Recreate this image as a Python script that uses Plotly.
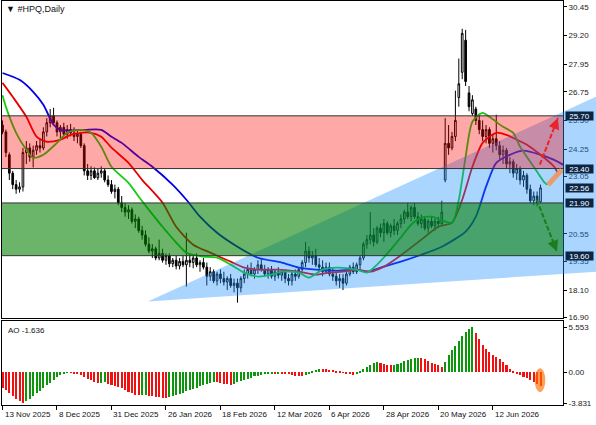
import plotly.graph_objects as go

# ---------------- data ----------------
TITLE = "\u25BC #HPQ,Daily"
AO_LABEL = "AO -1.636"
DATE_LABELS = ["13 Nov 2025", "8 Dec 2025", "31 Dec 2025", "26 Jan 2026", "18 Feb 2026",
               "12 Mar 2026", "6 Apr 2026", "28 Apr 2026", "20 May 2026", "12 Jun 2026"]
DATE_LABEL_BARS = [0, 16, 32, 48, 64, 80, 96, 112, 128, 144]
PRICE_TICKS = [30.45, 29.20, 27.95, 26.75, 25.50, 24.25, 23.05, 20.55, 19.35, 18.10, 16.90]
AO_TICKS = [5.553, 0.0, -3.831]
AO_TICKTEXT = ["5.553", "0.00", "-3.831"]
LEVELS = [25.70, 23.40, 22.56, 21.90, 19.60]
RESIST_ZONE = [23.40, 25.70]
SUPPORT_ZONE = [19.60, 21.90]
TRIANGLE_BARS = [42.7, 174.3, 174.3]
TRIANGLE_PRICES = [17.6, 26.53, 18.9]
UP_ARROW_BARS, UP_ARROW_PRICES = [157.8, 163.1], [23.57, 25.61]
DOWN_ARROW_BARS, DOWN_ARROW_PRICES = [156.9, 162.8], [22.04, 19.78]
PROJ_BARS, PROJ_PRICES = [160.2, 164.3], [22.69, 23.35]
AO_MARK_BARS, AO_MARK_VALUES = [156.3, 159.4], [0.5, -2.45]

OPEN = [25.3, 25.0, 24.0, 23.2, 22.7, 22.5, 22.6, 24.1, 24.3, 23.9,
        24.2, 24.4, 24.3, 25.0, 25.4, 25.7, 25.4, 25.0, 25.2, 24.9,
        25.1, 24.95, 24.8, 24.9, 24.4, 23.3, 23.1, 23.3, 23.0, 23.2,
        23.3, 22.9, 22.7, 22.4, 22.5, 21.9, 21.7, 21.5, 21.6, 21.1,
        21.2, 20.7, 20.5, 20.1, 19.8, 19.9, 19.5, 19.7, 19.4, 19.6,
        19.25, 19.4, 19.15, 19.35, 19.2, 19.4, 19.3, 19.5, 19.2, 19.3,
        19.1, 18.7, 18.9, 18.5, 18.8, 18.6, 18.45, 18.6, 18.3, 18.4,
        18.2, 18.6, 18.8, 19.0, 18.8, 19.0, 19.2, 19.0, 18.8, 19.0,
        18.7, 18.9, 18.75, 18.9, 18.6, 18.5, 18.8, 18.7, 19.0, 19.3,
        19.8, 19.5, 19.6, 19.2, 19.1, 18.9, 19.1, 18.8, 18.7, 18.5,
        18.6, 18.4, 18.8, 19.1, 18.9, 19.2, 19.5, 20.1, 20.3, 20.5,
        20.2, 20.8, 20.6, 21.0, 20.6, 20.9, 20.7, 21.0, 21.2, 21.5,
        21.3, 21.7, 21.3, 21.0, 21.2, 20.8, 21.1, 20.9, 21.1, 21.0,
        22.9, 24.5, 24.3, 24.8, 26.5, 27.6, 29.0, 26.7, 25.8, 26.0,
        25.5, 25.1, 24.8, 25.1, 24.5, 24.7, 24.4, 24.0, 24.2, 23.6,
        23.7, 23.2, 23.4, 22.9, 23.1, 22.5, 22.0, 22.2, 21.95]
HIGH = [25.5, 25.1, 24.1, 23.3, 22.9, 22.8, 24.3, 24.6, 24.5, 24.4,
        24.6, 24.7, 25.2, 25.6, 26.0, 26.05, 25.5, 25.3, 25.4, 25.3,
        25.35, 25.2, 25.1, 25.0, 24.5, 23.6, 23.5, 23.45, 23.4, 23.5,
        23.4, 23.1, 22.9, 22.7, 22.6, 22.2, 21.9, 21.8, 21.7, 21.4,
        21.3, 20.9, 20.7, 20.4, 20.1, 20.0, 20.3, 19.9, 19.7, 19.7,
        19.5, 19.6, 19.5, 19.6, 20.6, 19.7, 19.6, 19.7, 19.4, 19.5,
        19.3, 19.1, 19.0, 18.9, 19.0, 18.9, 18.7, 18.8, 18.6, 18.6,
        18.7, 19.0, 19.2, 19.3, 19.1, 19.4, 19.5, 19.2, 19.1, 19.15,
        19.0, 19.1, 19.0, 19.0, 18.8, 18.9, 19.0, 19.1, 19.4, 20.2,
        20.0, 19.8, 19.9, 19.5, 19.4, 19.3, 19.3, 19.1, 18.9, 18.8,
        18.8, 18.9, 19.2, 19.3, 19.3, 19.6, 20.2, 20.5, 21.5, 20.8,
        20.9, 21.0, 21.2, 21.1, 21.0, 21.2, 21.1, 21.4, 21.6, 21.9,
        21.8, 21.9, 21.5, 21.4, 21.3, 21.2, 21.3, 21.2, 21.3, 22.0,
        25.6, 25.3, 25.0, 26.8, 28.2, 29.5, 29.45, 27.0, 26.6, 26.1,
        25.8, 25.5, 25.3, 25.2, 24.9, 25.75, 24.6, 24.4, 24.3, 23.9,
        23.8, 23.6, 23.5, 23.3, 23.2, 22.7, 22.4, 22.4, 22.7]
LOW = [24.9, 23.9, 22.9, 22.5, 22.3, 22.35, 22.4, 23.6, 23.7, 23.45,
       24.0, 24.1, 24.2, 24.8, 25.2, 25.3, 24.8, 24.7, 24.8, 24.7,
       24.8, 24.6, 24.5, 24.3, 23.1, 22.9, 22.9, 22.95, 22.9, 23.0,
       22.8, 22.6, 22.3, 22.1, 21.8, 21.5, 21.3, 21.2, 21.0, 20.8,
       20.6, 20.3, 20.0, 19.7, 19.5, 19.4, 19.4, 19.3, 19.2, 19.1,
       19.1, 19.0, 19.0, 19.1, 18.25, 19.1, 19.05, 19.1, 18.9, 19.0,
       18.3, 18.5, 18.4, 18.3, 18.4, 18.3, 18.1, 18.2, 18.0, 17.55,
       18.0, 18.4, 18.6, 18.7, 18.6, 18.8, 18.9, 18.7, 18.6, 18.6,
       18.5, 18.6, 18.5, 18.4, 18.3, 18.3, 18.5, 18.6, 18.9, 19.1,
       19.3, 19.2, 19.1, 18.9, 18.7, 18.8, 18.7, 18.5, 18.3, 18.2,
       18.1, 18.3, 18.7, 18.8, 18.8, 19.0, 19.4, 19.9, 20.1, 20.0,
       20.1, 20.4, 20.2, 20.5, 20.4, 20.5, 20.5, 20.8, 21.0, 21.2,
       21.1, 21.2, 20.9, 20.8, 20.7, 20.6, 20.8, 20.7, 20.8, 20.9,
       22.8, 24.0, 24.2, 24.6, 26.1, 27.3, 27.0, 25.9, 25.7, 25.3,
       24.9, 24.6, 24.5, 24.3, 24.1, 24.2, 23.8, 23.6, 23.4, 23.2,
       23.0, 22.9, 22.7, 22.6, 22.3, 21.9, 21.8, 21.75, 21.9]
CLOSE = [25.0, 24.1, 23.2, 22.7, 22.5, 22.6, 24.1, 24.3, 23.9, 24.2,
         24.4, 24.3, 25.0, 25.4, 25.7, 25.4, 25.0, 25.2, 24.9, 25.1,
         24.95, 24.8, 24.9, 24.4, 23.3, 23.1, 23.3, 23.0, 23.2, 23.3,
         22.9, 22.7, 22.4, 22.5, 21.9, 21.7, 21.5, 21.6, 21.1, 21.2,
         20.7, 20.5, 20.1, 19.8, 19.9, 19.5, 19.7, 19.4, 19.6, 19.25,
         19.4, 19.15, 19.35, 19.2, 19.4, 19.3, 19.5, 19.2, 19.3, 19.1,
         18.7, 18.9, 18.5, 18.8, 18.6, 18.45, 18.6, 18.3, 18.4, 18.2,
         18.6, 18.8, 19.0, 18.8, 19.0, 19.2, 19.0, 18.8, 19.0, 18.7,
         18.9, 18.75, 18.9, 18.6, 18.5, 18.8, 18.7, 19.0, 19.3, 19.8,
         19.5, 19.6, 19.2, 19.1, 18.9, 19.1, 18.8, 18.7, 18.5, 18.6,
         18.4, 18.8, 19.1, 18.9, 19.2, 19.5, 20.1, 20.3, 20.5, 20.2,
         20.8, 20.6, 21.0, 20.6, 20.9, 20.7, 21.0, 21.2, 21.5, 21.3,
         21.7, 21.3, 21.0, 21.2, 20.8, 21.1, 20.9, 21.1, 21.0, 21.5,
         24.5, 24.3, 24.8, 25.5, 27.1, 29.3, 27.2, 26.1, 26.4, 25.5,
         25.1, 24.8, 25.1, 24.5, 24.7, 24.4, 24.0, 24.2, 23.6, 23.7,
         23.2, 23.4, 22.9, 23.1, 22.5, 22.0, 22.2, 21.9, 22.56]

AO = [-1.9, -2.2, -2.5, -2.9, -3.3, -3.6, -3.831,
      -3.6, -3.3, -2.9, -2.6, -2.3, -1.95, -1.6, -1.3, -0.95, -0.6, -0.3,
      -0.12, -0.05, -0.08, -0.1, -0.2, -0.35,
      -0.55, -0.8, -1.0, -1.2, -1.36,
      -1.3, -1.25,
      -1.4, -1.55, -1.7, -1.85, -2.0, -2.2, -2.4, -2.6, -2.75, -2.85,
      -2.8, -2.75,
      -2.9, -2.95, -3.05, -3.1, -3.18, -3.22,
      -3.1, -2.95, -2.8, -2.65, -2.5, -2.35, -2.2, -2.05, -1.9, -1.75, -1.6, -1.45, -1.3, -1.15,
      -1.2, -1.3, -1.4, -1.5, -1.56,
      -1.4, -1.25, -1.1, -0.95, -0.8, -0.65, -0.5, -0.4, -0.3, -0.22,
      -0.15, -0.1, -0.12, -0.1, -0.13, -0.2, -0.25, -0.3, -0.4, -0.45, -0.48,
      -0.3, -0.1, 0.1, 0.3, 0.45,
      0.42, 0.35, 0.3, 0.25, 0.15, 0.05, -0.05, -0.15, -0.25, -0.3,
      -0.2, 0.05, 0.35, 0.65, 0.95, 1.15, 1.3,
      1.2, 1.05, 0.95, 0.88,
      0.95, 1.05, 1.2, 1.35, 1.5, 1.65, 1.75, 1.82,
      1.8, 1.6, 1.4, 1.2, 1.0, 0.85, 0.7,
      1.3, 2.1, 2.7, 3.3, 3.9, 4.5, 5.0, 5.4, 5.553,
      4.9, 4.1, 3.4, 2.9, 2.5, 2.15, 1.9, 1.6, 1.25, 0.85, 0.45,
      0.1, -0.1, -0.3, -0.55, -0.75, -0.95, -1.2, -1.45, -1.636]

JAW_BARS = [0, 5, 9, 12, 15, 17, 24, 29, 32, 35, 40, 44, 50, 54, 58, 63, 69, 75, 82, 87,
            92, 98, 104, 107, 112, 117, 123, 129, 136, 139, 142, 145, 149, 153, 158, 162, 166]
JAW = [27.57, 27.27, 26.75, 26.18, 25.31, 25.09, 25.09, 25.09, 24.79, 24.52,
       23.91, 23.48, 22.69, 22.04, 21.3, 20.6, 19.99, 19.51, 19.3, 19.08,
       18.99, 18.95, 18.99, 18.9, 19.12, 19.34, 19.64, 19.99, 20.65, 21.3,
       22.61, 23.65, 24.0, 24.18, 24.0, 23.78, 23.45]
TEETH_BARS = [0, 3, 7, 10, 13, 17, 20, 23, 26, 29, 32, 37, 41, 47, 51, 56, 61, 67, 71, 75,
              81, 87, 92, 96, 100, 104, 108, 112, 116, 123, 128, 132, 135, 138, 141, 145,
              148, 151, 154, 158, 162, 163]
TEETH = [27.14, 26.53, 25.66, 24.79, 24.57, 24.66, 24.87, 24.96, 24.96, 24.79,
         24.31, 23.65, 22.91, 21.91, 20.86, 20.08, 19.73, 19.34, 19.08, 18.99,
         18.99, 18.9, 18.77, 18.86, 18.9, 18.99, 18.9, 19.12, 19.51, 20.3,
         20.86, 21.04, 22.04, 23.48, 24.52, 24.96, 24.87, 24.66, 24.44, 24.0,
         23.48, 23.22]
LIPS_BARS = [0, 1, 4, 7, 9, 12, 16, 19, 23, 26, 29, 32, 37, 40, 43, 47, 51, 54, 59, 63,
             67, 71, 75, 79, 82, 87, 90, 94, 98, 104, 107, 110, 114, 117, 120, 123, 126,
             132, 134, 136, 138, 141, 143, 147, 150, 152, 156, 159, 160]
LIPS = [26.6, 26.09, 24.96, 24.22, 23.87, 24.0, 24.52, 24.96, 25.09, 24.96,
        24.35, 23.48, 22.78, 22.17, 21.6, 20.86, 20.17, 19.73, 19.56, 19.51,
        19.21, 18.86, 18.69, 18.77, 18.9, 18.86, 18.64, 18.99, 19.08, 18.99,
        18.86, 19.21, 19.86, 20.4, 20.95, 21.26, 21.3, 21.04, 22.04, 23.91,
        25.44, 25.83, 25.66, 25.22, 24.96, 24.35, 23.48, 22.82, 22.69]

# ---------------- geometry ----------------
W, H = 596, 425
ML, MR, MT, MB = 2, 33, 1, 20
XR = [-0.15, 164.6]
YR = [16.88, 30.71]
AR = [-4.04, 6.33]
DOM_MAIN = [0.2153, 1.0]
DOM_AO = [0.0, 0.2079]
FONT = "Liberation Sans, Arial, sans-serif"

bars = list(range(len(CLOSE)))


def px_x(b):
    return (b - XR[0]) / (XR[1] - XR[0])


def px_y(p):
    return DOM_MAIN[0] + (p - YR[0]) / (YR[1] - YR[0]) * (DOM_MAIN[1] - DOM_MAIN[0])


fig = go.Figure()

fig.add_trace(go.Candlestick(
    x=bars, open=OPEN, high=HIGH, low=LOW, close=CLOSE,
    increasing=dict(line=dict(color="#000000", width=1), fillcolor="#ffffff"),
    decreasing=dict(line=dict(color="#000000", width=1), fillcolor="#000000"),
    whiskerwidth=0, showlegend=False, hoverinfo="skip", xaxis="x", yaxis="y"))

for bx, vals, col in [(JAW_BARS, JAW, "#0000e6"), (TEETH_BARS, TEETH, "#e60000"),
                      (LIPS_BARS, LIPS, "#11cc11")]:
    fig.add_trace(go.Scatter(x=bx, y=vals, mode="lines",
                             line=dict(color=col, width=1.8, shape="spline", smoothing=0.7),
                             showlegend=False, hoverinfo="skip", xaxis="x", yaxis="y"))

ao_colors = []
for i, v in enumerate(AO):
    if i > 0 and v > AO[i - 1]:
        ao_colors.append("#0c960c")
    else:
        ao_colors.append("#f01010")
fig.add_trace(go.Bar(x=bars, y=AO, marker=dict(color=ao_colors, line=dict(width=0)),
                     width=0.6, showlegend=False, hoverinfo="skip", xaxis="x2", yaxis="y2"))

shapes = []
# blue triangle (paper coords so it can run under the price scale)
pts = [(px_x(b), px_y(p)) for b, p in zip(TRIANGLE_BARS, TRIANGLE_PRICES)]
path = "M {} {} L {} {} L {} {} Z".format(pts[0][0], pts[0][1], pts[1][0], pts[1][1],
                                          pts[2][0], pts[2][1])
shapes.append(dict(type="path", xref="paper", yref="paper", path=path,
                   fillcolor="rgba(30,144,255,0.38)", line=dict(width=0), layer="above"))
# zones
shapes.append(dict(type="rect", xref="paper", yref="y", x0=0, x1=1,
                   y0=RESIST_ZONE[0], y1=RESIST_ZONE[1],
                   fillcolor="rgba(255,0,0,0.34)", line=dict(width=0), layer="above"))
shapes.append(dict(type="rect", xref="paper", yref="y", x0=0, x1=1,
                   y0=SUPPORT_ZONE[0], y1=SUPPORT_ZONE[1],
                   fillcolor="rgba(0,128,0,0.58)", line=dict(width=0), layer="above"))
for lv in RESIST_ZONE + SUPPORT_ZONE:
    shapes.append(dict(type="line", xref="paper", yref="y", x0=0, x1=1, y0=lv, y1=lv,
                       line=dict(color="#333333", width=1), layer="above"))
# projection segment
shapes.append(dict(type="line", xref="x", yref="y", x0=PROJ_BARS[0], x1=PROJ_BARS[1],
                   y0=PROJ_PRICES[0], y1=PROJ_PRICES[1],
                   line=dict(color="rgba(240,150,90,0.9)", width=5), layer="above"))
# dashed arrows
arrows = [(UP_ARROW_BARS, UP_ARROW_PRICES, "#e8262a"),
          (DOWN_ARROW_BARS, DOWN_ARROW_PRICES, "#1f7a1f")]
for bx, py, col in arrows:
    shapes.append(dict(type="line", xref="x", yref="y", x0=bx[0], x1=bx[1], y0=py[0], y1=py[1],
                       line=dict(color=col, width=2, dash="5px,2px"), layer="above"))
# AO highlight
shapes.append(dict(type="circle", xref="x2", yref="y2", x0=AO_MARK_BARS[0], x1=AO_MARK_BARS[1],
                   y0=AO_MARK_VALUES[1], y1=AO_MARK_VALUES[0],
                   fillcolor="rgba(255,110,0,0.65)", line=dict(width=0), layer="above"))

annotations = []
pxw = (W - ML - MR) / (XR[1] - XR[0])
pxh = (H - MT - MB) * (DOM_MAIN[1] - DOM_MAIN[0]) / (YR[1] - YR[0])
for bx, py, col in arrows:
    dx = (bx[1] - bx[0]) * pxw
    dy = -(py[1] - py[0]) * pxh
    n = (dx * dx + dy * dy) ** 0.5
    annotations.append(dict(x=bx[1], y=py[1], xref="x", yref="y", ax=-dx / n * 7, ay=-dy / n * 7,
                            axref="pixel", ayref="pixel", showarrow=True, arrowhead=2,
                            arrowsize=1.1, arrowwidth=2, arrowcolor=col, text=""))

annotations.append(dict(x=0, y=1, xref="paper", yref="paper", xanchor="left", yanchor="top",
                        xshift=2, yshift=-1, text=TITLE, showarrow=False,
                        font=dict(family=FONT, size=9, color="#111111")))
annotations.append(dict(x=0, y=DOM_AO[1], xref="paper", yref="paper", xanchor="left",
                        yanchor="top", xshift=4, yshift=-3, text=AO_LABEL, showarrow=False,
                        font=dict(family=FONT, size=8, color="#111111")))
for b, t in zip(DATE_LABEL_BARS, DATE_LABELS):
    annotations.append(dict(x=b, y=0, xref="x2", yref="paper", xanchor="left", yanchor="top",
                            xshift=0, yshift=-3, text=t, showarrow=False,
                            font=dict(family=FONT, size=8, color="#111111")))
for lv in LEVELS:
    annotations.append(dict(x=1, y=lv, xref="paper", yref="y", xanchor="left", yanchor="middle",
                            xshift=2, text="{:.2f}".format(lv), showarrow=False,
                            bgcolor="#0b2545", borderpad=0, width=27, height=8,
                            font=dict(family=FONT, size=8, color="#ffffff")))

axis_common = dict(showgrid=False, zeroline=False, showline=True, mirror=True,
                   linecolor="#000000", linewidth=1)
fig.update_layout(
    width=W, height=H, margin=dict(l=ML, r=MR, t=MT, b=MB),
    paper_bgcolor="#ffffff", plot_bgcolor="#ffffff", bargap=0,
    showlegend=False, shapes=shapes, annotations=annotations,
    xaxis=dict(domain=[0, 1], range=XR, anchor="y", showticklabels=False, ticks="",
               rangeslider=dict(visible=False), **axis_common),
    yaxis=dict(domain=DOM_MAIN, range=YR, side="right", anchor="x", tickvals=PRICE_TICKS,
               ticktext=["{:.2f}".format(v) for v in PRICE_TICKS], ticks="outside", ticklen=3,
               tickcolor="#000000", tickfont=dict(family=FONT, size=8, color="#222222"),
               **axis_common),
    xaxis2=dict(domain=[0, 1], range=XR, anchor="y2", tickvals=DATE_LABEL_BARS,
                ticks="outside", ticklen=4, tickcolor="#000000", showticklabels=False,
                **axis_common),
    yaxis2=dict(domain=DOM_AO, range=AR, side="right", anchor="x2", tickvals=AO_TICKS,
                ticktext=AO_TICKTEXT, ticks="outside", ticklen=3, tickcolor="#000000",
                tickfont=dict(family=FONT, size=8, color="#222222"), **axis_common),
)

fig.write_html("out.html", config={"displayModeBar": False})
